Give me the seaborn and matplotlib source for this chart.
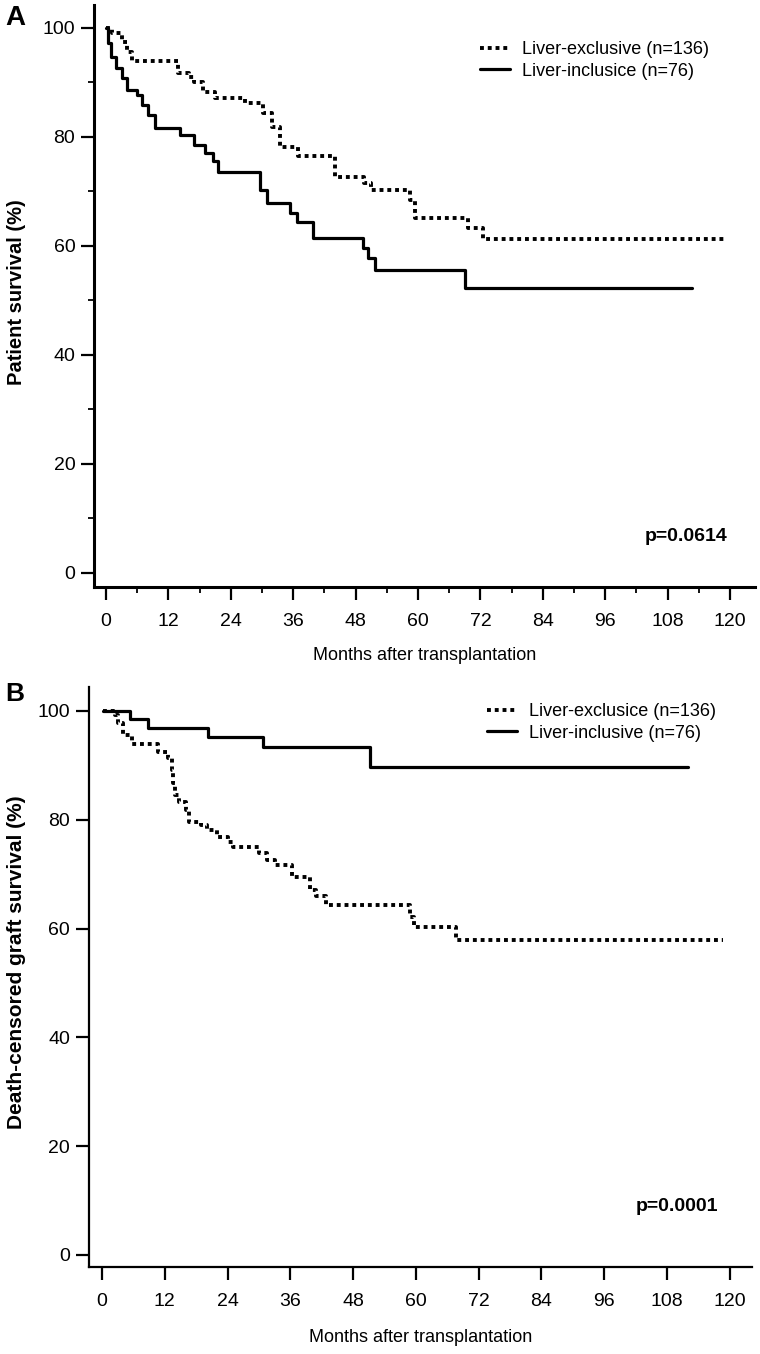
import seaborn as sns
import matplotlib.pyplot as plt
import matplotlib.ticker as mticker

sns.set_style("white")

NARROW = ["Liberation Sans Narrow", "Liberation Sans", "DejaVu Sans"]
WIDE = ["Liberation Sans", "DejaVu Sans"]
plt.rcParams["font.family"] = NARROW
plt.rcParams["text.color"] = "black"
plt.rcParams["axes.labelcolor"] = "black"
plt.rcParams["xtick.color"] = "black"
plt.rcParams["ytick.color"] = "black"

# panel A: patient survival
a_excl_months = [0, 1.2, 3, 4, 5, 13.8, 16, 17, 18.7, 21, 26.7, 30.2, 31.9, 33.5, 37,
                 44, 49.7, 51, 58.5, 59.4, 69.6, 72.5, 119]
a_excl_surv = [100, 99, 97.5, 95.5, 94, 91.7, 91, 90, 88.3, 87.2, 86.2, 84.4, 81.8, 78.2, 76.4,
               72.7, 71.5, 70.3, 68.5, 65.1, 63.3, 61.2, 61.2]
a_incl_months = [0, 0.4, 1, 2, 3, 4, 6, 7, 8, 9.4, 14.2, 17, 19, 20.6, 21.5, 29.6, 31,
                 35.4, 36.7, 39.9, 49.5, 50.4, 51.7, 69, 112.7]
a_incl_surv = [100, 97.2, 94.7, 92.7, 90.8, 88.6, 87.7, 85.9, 84, 81.6, 80.3, 78.5, 77, 75.5,
               73.5, 70.3, 67.9, 66, 64.4, 61.5, 59.6, 57.8, 55.6, 52.3, 52.3]

# panel B: death-censored graft survival
b_excl_months = [0.2, 2.5, 3.1, 4, 5.7, 10.7, 12.6, 13.3, 13.6, 14, 14.7, 16, 16.6, 19, 20,
                 22, 24, 25, 30, 31.5, 33, 36.3, 39.7, 41, 42.8, 58.9, 59.7, 67.7, 118.7]
b_excl_surv = [100, 99.3, 97.8, 95.6, 94, 92.5, 91.4, 89.2, 86.8, 84.5, 83.3, 81.8, 79.6, 79,
               78.1, 76.9, 75.9, 75, 73.9, 72.6, 71.7, 69.5, 67.1, 66, 64.3, 62.1, 60.3, 57.9, 57.9]
b_incl_months = [0.2, 5.4, 8.8, 20.3, 30.8, 51.2, 112]
b_incl_surv = [100, 98.5, 96.9, 95.2, 93.4, 89.7, 89.7]

month_ticks = list(range(0, 121, 12))
surv_ticks = [0, 20, 40, 60, 80, 100]

fig = plt.figure(figsize=(7.6, 13.54), dpi=100)
ax_a = fig.add_axes([0.1237, 0.5665, 0.8697, 0.4298])
ax_b = fig.add_axes([0.1171, 0.0643, 0.8724, 0.4283])


def draw_panel(ax, curves, spine_w, minor, ylabel, ylsize, ptext, ppos, leg_anchor, xlim, ylim):
    for months, surv, label, dotted in curves:
        ls = (0, (1, 1)) if dotted else "-"
        lw = 2.8 if dotted else 2.3
        sns.lineplot(x=months, y=surv, ax=ax, color="black", linestyle=ls, linewidth=lw,
                     drawstyle="steps-post", estimator=None, sort=False, label=label,
                     dash_capstyle="butt")
    ax.set_xlim(*xlim)
    ax.set_ylim(*ylim)
    ax.set_xticks(month_ticks)
    ax.set_yticks(surv_ticks)
    if minor:
        ax.xaxis.set_minor_locator(mticker.FixedLocator(list(range(6, 120, 12))))
        ax.yaxis.set_minor_locator(mticker.FixedLocator([10, 30, 50, 70, 90]))
        ax.tick_params(which="minor", length=4.5, width=1.3, direction="out",
                       bottom=True, left=True)
    ax.tick_params(which="major", length=9.5, width=1.6, direction="out", labelsize=14,
                   bottom=True, left=True, colors="black")
    ax.tick_params(axis="x", pad=9)
    ax.tick_params(axis="y", pad=4)
    for side in ["top", "right"]:
        ax.spines[side].set_visible(False)
    for side in ["left", "bottom"]:
        ax.spines[side].set_linewidth(spine_w)
        ax.spines[side].set_color("black")
    ax.set_xlabel("Months after transplantation", fontsize=13, va="center", color="black")
    ax.set_ylabel(ylabel, fontsize=ylsize, fontweight="bold", family=WIDE, va="center",
                  color="black")
    ax.text(ppos[0], ppos[1], ptext, transform=ax.transAxes, ha="right", va="center",
            fontsize=14, fontweight="bold", family=WIDE, color="black")
    leg = ax.legend(loc="upper left", bbox_to_anchor=leg_anchor, bbox_transform=fig.transFigure,
                    frameon=False, fontsize=13, handlelength=1.65, handletextpad=0.65,
                    labelspacing=0.25, borderpad=0, borderaxespad=0)
    for t in leg.get_texts():
        t.set_color("black")


draw_panel(ax_a,
           [(a_excl_months, a_excl_surv, "Liver-exclusive (n=136)", True),
            (a_incl_months, a_incl_surv, "Liver-inclusice (n=76)", False)],
           2.2, True, "Patient survival (%)", 14.5, "p=0.0614", (0.959, 0.086),
           (480 / 760, 1 - 41 / 1354), (-2.3, 124.8), (-2.6, 104.2))
ax_a.xaxis.set_label_coords(0.5, -0.117)
ax_a.yaxis.set_label_coords(-0.118, 0.506)

draw_panel(ax_b,
           [(b_excl_months, b_excl_surv, "Liver-exclusice (n=136)", True),
            (b_incl_months, b_incl_surv, "Liver-inclusive (n=76)", False)],
           1.6, False, "Death-censored graft survival (%)", 15, "p=0.0001", (0.949, 0.105),
           (487 / 760, 1 - 703 / 1354), (-2.5, 124.3), (-2.2, 104.4))
ax_b.xaxis.set_label_coords(0.5, -0.122)
ax_b.yaxis.set_label_coords(-0.110, 0.526)

fig.text(15 / 760, 1 - 18 / 1354, "A", ha="center", va="center", fontsize=20,
         fontweight="bold", family=WIDE, color="black")
fig.text(15 / 760, 1 - 694 / 1354, "B", ha="center", va="center", fontsize=19,
         fontweight="bold", family=WIDE, color="black")

fig.savefig("out.png", dpi=100)
plt.close()
